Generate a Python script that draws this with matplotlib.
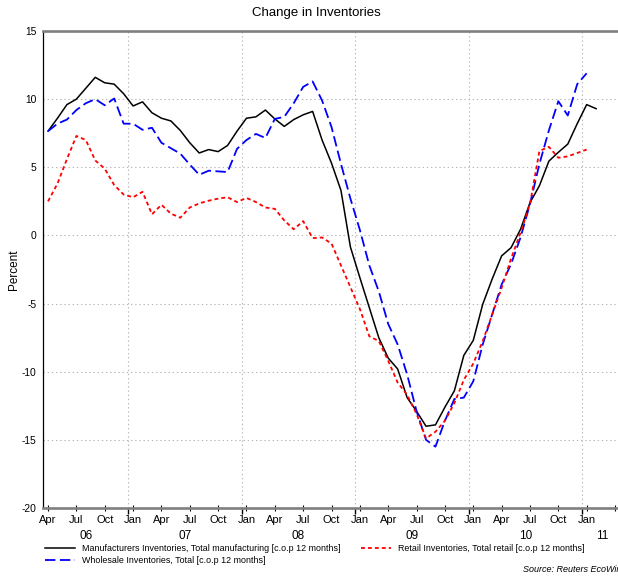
import numpy as np
import matplotlib
matplotlib.use('Agg')
import matplotlib.pyplot as plt
import matplotlib.transforms as mtransforms

plt.rcParams['font.family'] = ['Liberation Sans', 'DejaVu Sans']
plt.rcParams['lines.scale_dashes'] = False

# monthly data, first point = Apr 2006
manufacturing = [7.65, 8.6, 9.6, 10.0, 10.8, 11.6, 11.2, 11.1, 10.4, 9.5, 9.8, 9.0,
                 8.6, 8.4, 7.7, 6.8, 6.05, 6.3, 6.15, 6.6, 7.65, 8.6, 8.7, 9.2,
                 8.55, 8.0, 8.5, 8.85, 9.1, 7.0, 5.3, 3.3, -0.85, -3.1, -5.3, -7.5,
                 -9.0, -9.8, -11.9, -12.9, -14.0, -13.9, -12.6, -11.4, -8.8, -7.7, -5.05, -3.2,
                 -1.5, -0.9, 0.45, 2.4, 3.65, 5.45, 6.1, 6.7, 8.2, 9.6, 9.3]
wholesale = [7.65, 8.2, 8.5, 9.2, 9.7, 10.0, 9.55, 10.05, 8.2, 8.2, 7.75, 7.9,
             6.8, 6.4, 6.0, 5.2, 4.45, 4.75, 4.7, 4.65, 6.35, 7.0, 7.45, 7.15,
             8.55, 8.7, 9.7, 10.9, 11.3, 9.9, 7.95, 5.25, 2.7, 0.4, -2.2, -4.1,
             -6.5, -8.0, -10.2, -12.9, -15.0, -15.5, -13.6, -12.0, -11.9, -10.7, -8.0, -5.8,
             -3.6, -2.1, -0.15, 2.3, 5.25, 7.7, 9.85, 8.8, 11.1, 11.9]
retail = [2.5, 3.8, 5.6, 7.3, 7.0, 5.5, 4.9, 3.7, 3.0, 2.8, 3.2, 1.55,
          2.25, 1.6, 1.3, 2.05, 2.35, 2.55, 2.7, 2.8, 2.45, 2.75, 2.45, 2.05,
          1.95, 1.1, 0.45, 1.05, -0.2, -0.15, -0.6, -2.2, -3.8, -5.4, -7.4, -7.75,
          -9.2, -10.8, -11.7, -13.1, -14.9, -14.4, -13.6, -12.3, -10.6, -9.4, -7.75, -5.8,
          -3.85, -1.7, 0.2, 2.3, 6.2, 6.5, 5.7, 5.8, 6.05, 6.3]

month_labels = ['Apr', 'Jul', 'Oct', 'Jan'] * 5 + ['']
year_labels = ['06', '07', '08', '09', '10', '11']
year_starts = [9, 21, 33, 45, 57]   # Jan, in months since Apr 2006
y_ticks = [15, 10, 5, 0, -5, -10, -15, -20]

x_end = 61.3

fig = plt.figure(figsize=(6.18, 5.77), dpi=100)
ax = fig.add_axes([43.3 / 618, 1 - 508 / 577, x_end * 9.45 / 618, 477 / 577])

xm = np.arange(len(manufacturing)) + 0.5
xw = np.arange(len(wholesale)) + 0.5
xr = np.arange(len(retail)) + 0.5

l1, = ax.plot(xm, manufacturing, color='black', lw=1.1,
              label='Manufacturers Inventories, Total manufacturing [c.o.p 12 months]')
l2, = ax.plot(xw, wholesale, color='#0000ff', lw=1.3, dashes=(7.5, 3.2),
              label='Wholesale Inventories, Total [c.o.p 12 months]')
l3, = ax.plot(xr, retail, color='#ff0000', lw=1.3, dashes=(2.8, 2.2),
              label='Retail Inventories, Total retail [c.o.p 12 months]')

# axes frame
ax.spines['right'].set_visible(False)
for s in ('top', 'bottom'):
    ax.spines[s].set_color('#7f7f7f')
    ax.spines[s].set_linewidth(1.9)
ax.spines['left'].set_color('black')
ax.spines['left'].set_linewidth(0.9)

# grid
for v in y_ticks[1:-1]:
    ax.axhline(v, color='#b8b8b8', lw=0.8, ls=(0, (1, 2)), zorder=0)
for xs in year_starts:
    ax.axvline(xs, color='#b8b8b8', lw=0.8, ls=(0, (1, 2)), zorder=0)

ax.set_yticks(y_ticks)
ax.set_yticklabels([str(v) for v in y_ticks])
ax.tick_params(axis='y', length=0, pad=5, labelsize=7.4)

ax.set_xticks(year_starts)
ax.set_xticklabels([''] * len(year_starts))
ax.tick_params(axis='x', which='major', length=4, width=1.0, direction='out', color='black')
quarter_pos = [0.5 + 3 * i for i in range(len(month_labels))]
ax.set_xticks(quarter_pos, minor=True)
ax.set_xticklabels(month_labels, minor=True)
ax.tick_params(axis='x', which='minor', length=4, width=0.8, direction='inout',
               color='black', labelsize=8, pad=3.2)

ax.set_xlim(0, x_end)
ax.set_ylim(-20, 15)

# year labels, centred on the visible part of each year
trans = mtransforms.blended_transform_factory(ax.transData, ax.transAxes)
bounds = [0] + year_starts + [x_end]
for i, lab in enumerate(year_labels):
    xc = (bounds[i] + bounds[i + 1]) / 2
    ax.text(xc, -28 / 477, lab, transform=trans, ha='center', va='center', fontsize=8.5)

fig.text(14 / 618, 1 - 270 / 577, 'Percent', rotation=90, ha='center', va='center', fontsize=8.5)
fig.text(316 / 618, 1 - 13 / 577, 'Change in Inventories', ha='center', va='center', fontsize=9.5)

fig.legend(handles=[l1, l2, l3], ncol=2, loc='upper left',
           bbox_to_anchor=(45 / 618, 1 - 544 / 577), frameon=False, fontsize=6.4,
           handlelength=3.4, handletextpad=0.75, columnspacing=2.3,
           labelspacing=0.3, borderpad=0, borderaxespad=0)

fig.text(522.7 / 618, 1 - 569 / 577, 'Source: Reuters EcoWin', style='italic',
         ha='left', va='center', fontsize=6.5)

fig.savefig('out.png', dpi=100)
